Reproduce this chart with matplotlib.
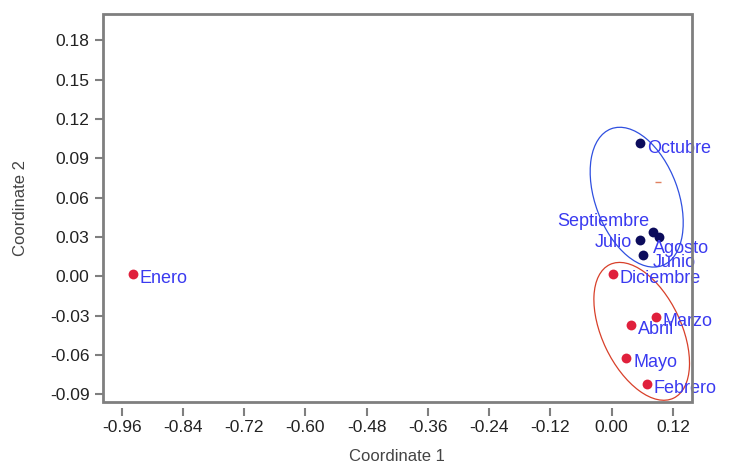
import matplotlib
matplotlib.use("Agg")
import matplotlib.pyplot as plt
from matplotlib.patches import Ellipse, Rectangle
from matplotlib.transforms import ScaledTranslation

plt.rcParams['font.family'] = ['Liberation Sans', 'DejaVu Sans']

# MDS coordinates
months = ['Enero', 'Febrero', 'Marzo', 'Abril', 'Mayo', 'Junio', 'Julio',
          'Agosto', 'Septiembre', 'Octubre', 'Diciembre']
coord1 = [-0.938, 0.069, 0.086, 0.037, 0.029, 0.061, 0.055,
          0.092, 0.080, 0.055, 0.002]
coord2 = [0.002, -0.082, -0.031, -0.037, -0.062, 0.016, 0.028,
          0.030, 0.034, 0.1015, 0.002]
group = ['r', 'r', 'r', 'r', 'r', 'b', 'b', 'b', 'b', 'b', 'r']

xticks = [-0.96, -0.84, -0.72, -0.60, -0.48, -0.36, -0.24, -0.12, 0.00, 0.12]
yticks = [-0.09, -0.06, -0.03, 0.00, 0.03, 0.06, 0.09, 0.12, 0.15, 0.18]

DOT = {'r': '#e0203c', 'b': '#0c0c5c'}
LABEL_COLOR = '#3a3af0'
FRAME = '#7f7f7f'

# label offsets in pixels (dx, dy), default right of the dot
label_offset = {
    'Septiembre': (-3, 10, 'right'),
    'Julio': (-8, -3, 'right'),
    'Agosto': (-6, -12, 'left'),
    'Junio': (10, -7, 'left'),
}

fig = plt.figure(figsize=(7.29, 4.66), dpi=100)
ax = fig.add_axes([0.141, 0.137, 0.808, 0.833])
ax.set_xlim(-0.997, 0.157)
ax.set_ylim(-0.096, 0.200)

for m, x, y, g in zip(months, coord1, coord2, group):
    ax.scatter(x, y, s=50, color=DOT[g], zorder=3, linewidths=0)
    dx, dy, ha = label_offset.get(m, (7, -5, 'left'))
    ax.annotate(m, (x, y), xytext=(dx * 0.72, dy * 0.72),
                textcoords='offset points', ha=ha, va='center',
                fontsize=13, color=LABEL_COLOR, zorder=4)

# small stray tick mark in the original
ax.plot([0.090], [0.0718], marker='_', markersize=4, color='#e08060',
        markeredgewidth=1)

# hand-drawn group ellipses (size in inches, angle in screen degrees)
ellipses = [
    ((0.049, 0.0603), 1.46, 0.83, 110.5, '#3050e0'),
    ((0.0588, -0.042), 1.48, 0.79, 115.5, '#d8402a'),
]
for (cx, cy), w, h, ang, col in ellipses:
    tr = fig.dpi_scale_trans + ScaledTranslation(cx, cy, ax.transData)
    ax.add_patch(Ellipse((0, 0), w, h, angle=ang, transform=tr,
                         fill=False, edgecolor=col, linewidth=0.9, zorder=2))

# frame
for s in ax.spines.values():
    s.set_visible(False)
ax.add_patch(Rectangle((0, 0), 1, 1, transform=ax.transAxes, fill=False,
                       edgecolor=FRAME, linewidth=2, clip_on=False, zorder=5))
ax.spines['bottom'].set_position(('outward', 4))

ax.set_xticks(xticks)
ax.set_xticklabels([f'{v:.2f}' for v in xticks])
ax.set_yticks(yticks)
ax.set_yticklabels([f'{v:.2f}' for v in yticks])
ax.tick_params(axis='both', colors=FRAME, labelcolor='#222222',
               labelsize=12.5, width=1.5, length=6)
ax.tick_params(axis='x', pad=3)

ax.set_xlabel('Coordinate 1', fontsize=12, color='#444444', labelpad=10)
ax.set_ylabel('Coordinate 2', fontsize=12, color='#444444', labelpad=16)

fig.savefig('out.png', dpi=100)
